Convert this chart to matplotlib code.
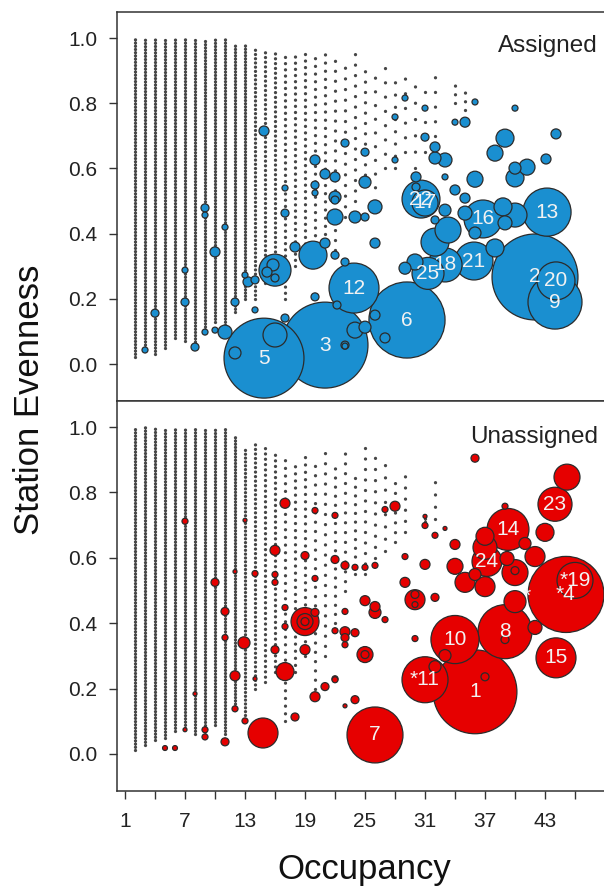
import matplotlib
matplotlib.use("Agg")
import matplotlib.pyplot as plt
from matplotlib.ticker import FixedLocator

plt.rcParams['font.family'] = ['Liberation Sans', 'DejaVu Sans']
plt.rcParams['lines.scale_dashes'] = False

# ---- Assigned panel -------------------------------------------------------
# background columns of tiny points: occupancy, lowest / highest evenness, rough count
a_col_x = [2, 3, 4, 5, 6, 7, 8, 9, 10, 11, 12, 13, 14, 15, 16, 17, 18, 19, 20,
           21, 22, 23, 24, 25, 26, 27, 28, 29, 30, 31, 32, 34, 35]
a_col_lo = [0.02, 0.04, 0.03, 0.05, 0.08, 0.07, 0.05, 0.095, 0.13, 0.12, 0.16,
            0.20, 0.20, 0.25, 0.30, 0.20, 0.30, 0.35, 0.30, 0.40, 0.35, 0.45,
            0.50, 0.55, 0.50, 0.60, 0.60, 0.65, 0.60, 0.65, 0.70, 0.80, 0.78]
a_col_hi = [1.0, 1.0, 1.0, 1.0, 1.0, 1.0, 1.0, 1.0, 1.0, 1.0, 0.985, 0.98, 0.975,
            0.97, 0.965, 0.96, 0.96, 0.95, 0.96, 0.95, 0.96, 0.94, 0.95, 0.93,
            0.92, 0.95, 0.90, 0.92, 0.90, 0.88, 0.88, 0.88, 0.86]
a_col_n = [260, 260, 250, 240, 230, 220, 210, 200, 150, 120, 100, 80, 60, 50,
           45, 40, 35, 30, 28, 22, 20, 15, 14, 12, 10, 8, 8, 6, 6, 5, 4, 3, 3]

# labelled taxa
a_big_lab = ["5", "3", "6", "12", "2", "20", "9", "13", "16", "21", "18", "25", "22", "17"]
a_big_x = [14.9, 21.0, 29.2, 23.9, 42.0, 44.1, 44.0, 43.2, 36.8, 35.9, 33.0, 31.3, 30.6, 31.0]
a_big_y = [0.018, 0.058, 0.135, 0.233, 0.267, 0.255, 0.190, 0.466, 0.445, 0.316,
           0.304, 0.278, 0.506, 0.494]
a_big_n = [1600, 1850, 1450, 625, 1850, 360, 730, 580, 360, 360, 290, 256, 360, 170]

# other taxa
a_x = [39.0, 38.0, 44.1, 43.1, 41.2, 40.0, 40.0, 36.0, 35.0, 34.0, 33.0, 32.0, 32.0,
       31.0, 31.0, 30.1, 30.1, 33.0, 34.0, 35.0, 35.0, 38.8, 40.0, 39.0, 36.0, 38.0,
       33.3, 32.0, 32.0, 29.0, 30.0, 26.0, 25.0, 25.0, 26.0, 26.0, 25.0, 24.0, 27.0,
       23.0, 24.0, 25.0, 22.0, 23.0, 22.0, 29.0, 28.0, 36.0, 40.0, 33.0, 28.0, 16.0,
       15.8, 16.0, 15.2, 13.3, 14.0, 13.0, 19.8, 21.0, 18.0, 22.0, 17.0, 10.0, 11.0,
       9.0, 9.0, 7.0, 7.0, 4.0, 12.0, 11.0, 12.0, 16.0, 10.0, 9.0, 8.0, 3.0, 17.0,
       14.0, 20.0, 22.2, 23.0, 14.9, 20.0, 21.0, 22.0, 23.0, 22.0, 20.0, 17.0, 20.0]
a_y = [0.693, 0.647, 0.706, 0.629, 0.604, 0.601, 0.571, 0.567, 0.742, 0.742, 0.626,
       0.666, 0.632, 0.696, 0.785, 0.574, 0.543, 0.472, 0.534, 0.509, 0.463, 0.482,
       0.457, 0.433, 0.402, 0.356, 0.411, 0.374, 0.442, 0.294, 0.313, 0.482, 0.558,
       0.650, 0.371, 0.150, 0.113, 0.104, 0.080, 0.055, 0.451, 0.451, 0.451, 0.313,
       0.334, 0.816, 0.758, 0.804, 0.785, 0.574, 0.626, 0.288, 0.304, 0.264, 0.282,
       0.252, 0.258, 0.273, 0.334, 0.371, 0.359, 0.503, 0.463, 0.344, 0.420, 0.479,
       0.457, 0.288, 0.190, 0.156, 0.190, 0.098, 0.034, 0.089, 0.104, 0.098, 0.052,
       0.043, 0.141, 0.166, 0.206, 0.181, 0.058, 0.715, 0.626, 0.583, 0.574, 0.678,
       0.512, 0.549, 0.540, 0.525]
a_n = [81, 64, 25, 25, 64, 36, 81, 64, 25, 9, 49, 25, 36, 16, 9, 25, 16, 36, 25, 25,
       49, 81, 144, 49, 36, 81, 169, 196, 16, 36, 64, 49, 36, 16, 25, 25, 36, 64, 25,
       9, 36, 16, 64, 16, 16, 9, 9, 9, 9, 9, 9, 256, 36, 16, 25, 25, 16, 9, 196, 25,
       25, 16, 16, 25, 9, 16, 9, 9, 16, 16, 16, 49, 36, 144, 9, 9, 16, 9, 16, 9, 16,
       16, 16, 25, 25, 25, 25, 16, 36, 16, 9, 9]

# ---- Unassigned panel -----------------------------------------------------
b_col_x = [2, 3, 4, 5, 6, 7, 8, 9, 10, 11, 12, 13, 14, 15, 16, 17, 18, 19, 20,
           21, 22, 23, 24, 25, 26, 27, 28, 29, 31, 32]
b_col_lo = [0.012, 0.028, 0.043, 0.05, 0.07, 0.08, 0.06, 0.05, 0.09, 0.06, 0.135,
            0.12, 0.20, 0.22, 0.25, 0.10, 0.25, 0.30, 0.20, 0.30, 0.40, 0.50, 0.55,
            0.55, 0.60, 0.62, 0.65, 0.68, 0.70, 0.72]
b_col_hi = [1.0, 1.0, 1.0, 1.0, 1.0, 1.0, 1.0, 1.0, 1.0, 1.0, 0.97, 0.94, 0.96,
            0.95, 0.93, 0.92, 0.90, 0.93, 0.91, 0.92, 0.90, 0.92, 0.87, 0.935,
            0.94, 0.92, 0.83, 0.85, 0.73, 0.87]
b_col_n = [260, 260, 250, 240, 230, 220, 210, 200, 150, 120, 90, 70, 55, 45, 40,
           35, 30, 28, 25, 20, 18, 14, 12, 12, 10, 8, 6, 5, 4, 4]

b_big_lab = ["1", "7", "*11", "10", "8", "15", "*4", "*19", "23", "14", "24"]
b_big_x = [36.0, 26.0, 31.0, 34.0, 39.0, 44.1, 45.1, 46.0, 44.0, 39.3, 37.2]
b_big_y = [0.190, 0.058, 0.227, 0.350, 0.374, 0.294, 0.488, 0.531, 0.764, 0.687, 0.589]
b_big_n = [1760, 784, 530, 580, 730, 400, 1450, 324, 290, 440, 225]

b_x = [45.2, 37.0, 43.0, 42.0, 41.0, 39.2, 40.0, 40.0, 40.0, 42.0, 39.0, 37.0, 37.0,
       36.0, 35.0, 37.0, 34.0, 34.0, 39.0, 36.0, 33.0, 32.0, 31.0, 31.0, 31.0, 29.0,
       29.0, 30.0, 30.0, 30.0, 32.0, 28.0, 27.0, 26.0, 25.0, 24.0, 23.0, 22.0, 25.0,
       26.0, 26.0, 27.0, 23.0, 23.0, 23.0, 23.0, 24.0, 22.0, 25.0, 25.0, 30.0, 22.0,
       24.0, 23.0, 33.0, 32.0, 14.8, 19.0, 19.0, 19.0, 20.0, 17.0, 12.9, 12.0, 16.0,
       17.0, 19.0, 20.0, 21.0, 22.0, 18.0, 11.0, 11.0, 11.0, 17.0, 13.0, 12.0, 9.0,
       9.0, 5.0, 6.0, 8.0, 7.0, 14.0, 17.0, 20.0, 22.0, 7.0, 13.0, 16.0, 19.0, 10.0,
       14.0, 16.0, 16.0, 20.0, 12.0]
b_y = [0.847, 0.236, 0.678, 0.604, 0.644, 0.598, 0.555, 0.561, 0.466, 0.387, 0.350,
       0.666, 0.632, 0.549, 0.525, 0.512, 0.574, 0.641, 0.758, 0.905, 0.690, 0.669,
       0.699, 0.727, 0.580, 0.604, 0.525, 0.472, 0.488, 0.457, 0.479, 0.758, 0.748,
       0.577, 0.571, 0.571, 0.577, 0.595, 0.469, 0.451, 0.433, 0.411, 0.436, 0.374,
       0.356, 0.334, 0.371, 0.377, 0.304, 0.304, 0.353, 0.230, 0.166, 0.147, 0.301,
       0.267, 0.064, 0.405, 0.405, 0.405, 0.433, 0.252, 0.340, 0.239, 0.319, 0.390,
       0.319, 0.175, 0.206, 0.227, 0.113, 0.037, 0.436, 0.356, 0.448, 0.101, 0.138,
       0.052, 0.074, 0.018, 0.018, 0.184, 0.074, 0.230, 0.767, 0.745, 0.730, 0.712,
       0.715, 0.623, 0.607, 0.525, 0.552, 0.549, 0.525, 0.537, 0.558]
b_n = [169, 16, 81, 100, 36, 49, 169, 16, 121, 49, 16, 81, 144, 36, 100, 100, 64, 25,
       9, 16, 4, 9, 9, 4, 25, 9, 25, 100, 16, 9, 16, 25, 9, 9, 9, 9, 16, 16, 25, 25,
       36, 9, 9, 25, 16, 9, 16, 9, 64, 16, 9, 9, 16, 4, 36, 36, 225, 196, 64, 16, 16,
       81, 36, 25, 16, 9, 25, 25, 16, 9, 16, 16, 16, 9, 9, 9, 9, 9, 9, 6, 6, 4, 4, 4,
       25, 9, 9, 9, 4, 25, 16, 16, 9, 9, 9, 9, 4]

# stray asterisk in the unassigned panel
b_note_x = [41.2]
b_note_y = [0.481]

ticks_major = [1, 7, 13, 19, 25, 31, 37, 43]
ticks_minor = [4, 10, 16, 22, 28, 34, 40, 46]
yticks = [0.0, 0.2, 0.4, 0.6, 0.8, 1.0]

EDGE = '#2b2b2b'
DOT = '#262626'
SIZE = 2.07  # area value -> points^2


def draw_columns(ax, cx, lo, hi, n, px_per_unit):
    dot = 2.4
    styles = []
    for l, h, k in zip(lo, hi, n):
        gap = (h - l) * px_per_unit / k * 0.72
        styles.append((0, (0.01, max(gap, 2.3))))
    ax.vlines(cx, lo, hi, colors=DOT, linewidths=dot, linestyles=styles,
              capstyle='round', alpha=0.85, zorder=1)


def draw_panel(ax, cols, small, big, color, notes=None):
    ax.set_xlim(0.2, 50)
    ax.set_ylim(-0.1135, 1.08)
    h_px = ax.get_window_extent().height
    draw_columns(ax, *cols, px_per_unit=h_px / (1.08 + 0.1135))

    xs = list(small[0]) + list(big[0])
    ys = list(small[1]) + list(big[1])
    ns = list(small[2]) + list(big[2])
    order = sorted(range(len(ns)), key=lambda i: -ns[i])
    ax.scatter([xs[i] for i in order], [ys[i] for i in order],
               s=[ns[i] * SIZE for i in order], c=color, edgecolors=EDGE,
               linewidths=0.9, zorder=2)
    for x, y, lab in zip(big[0], big[1], big[3]):
        ax.text(x, y, lab, ha='center', va='center', fontsize=15,
                color='#f2f2f2', zorder=4)
    if notes:
        for x, y in zip(*notes):
            ax.text(x, y, '*', ha='center', va='center', fontsize=15,
                    color='#f2f2f2', zorder=4)

    ax.set_yticks(yticks)
    ax.set_yticklabels(['%.1f' % v for v in yticks])
    ax.tick_params(axis='y', direction='out', length=6, width=1, colors='#333333',
                   labelcolor='#222222', labelsize=15, pad=8)
    for side in ['left', 'top', 'bottom']:
        ax.spines[side].set_linewidth(1.1)
        ax.spines[side].set_color('#333333')
    ax.spines['right'].set_visible(False)


fig = plt.figure(figsize=(6.04, 8.92), dpi=100)
left = 117 / 604
width = (615 - 117) / 604
ax1 = fig.add_axes([left, (892 - 401) / 892, width, (401 - 12) / 892])
ax2 = fig.add_axes([left, (892 - 791) / 892, width, (791 - 401) / 892])

draw_panel(ax1, (a_col_x, a_col_lo, a_col_hi, a_col_n), (a_x, a_y, a_n),
           (a_big_x, a_big_y, a_big_n, a_big_lab), '#1a8fd0')
draw_panel(ax2, (b_col_x, b_col_lo, b_col_hi, b_col_n), (b_x, b_y, b_n),
           (b_big_x, b_big_y, b_big_n, b_big_lab), '#e60000',
           notes=(b_note_x, b_note_y))

ax1.tick_params(axis='x', bottom=False, labelbottom=False)
ax2.xaxis.set_major_locator(FixedLocator(ticks_major))
ax2.xaxis.set_minor_locator(FixedLocator(ticks_minor))
ax2.set_xticklabels([str(t) for t in ticks_major])
ax2.tick_params(axis='x', which='both', direction='out', length=6, width=1,
                colors='#333333', labelcolor='#222222', labelsize=15, pad=9)

fig.text(598 / 604, 1 - 46 / 892, 'Assigned', ha='right', va='center',
         fontsize=17.5, color='#222222')
fig.text(598 / 604, 1 - 437 / 892, 'Unassigned', ha='right', va='center',
         fontsize=17.5, color='#222222')
fig.text(30 / 604, 1 - 400 / 892, 'Station Evenness', rotation=90, ha='center',
         va='center', fontsize=25, color='#111111')
fig.text(364 / 604, 1 - 870 / 892, 'Occupancy', ha='center', va='center',
         fontsize=25, color='#111111')

fig.savefig('out.png', dpi=100)
